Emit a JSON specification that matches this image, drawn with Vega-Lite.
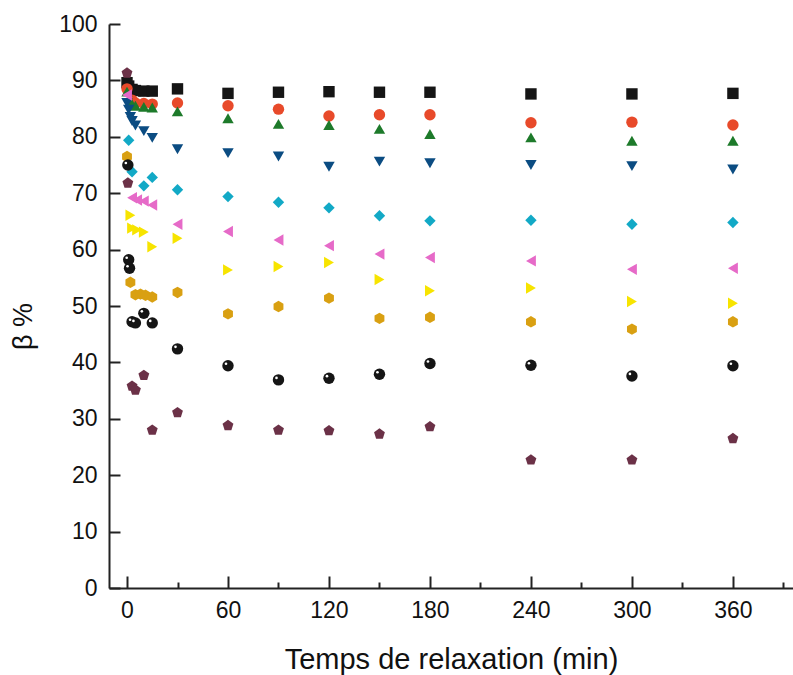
{
  "$schema": "https://vega.github.io/schema/vega-lite/v6.json",
  "width": 684,
  "height": 564,
  "autosize": {"type": "none"},
  "padding": {"left": 109, "top": 24, "right": 0, "bottom": 87},
  "background": "white",
  "config": {
    "view": {"stroke": null},
    "font": "Liberation Sans",
    "axis": {
      "domainColor": "#222",
      "domainWidth": 2,
      "tickColor": "#222",
      "tickWidth": 2,
      "grid": false,
      "labelFont": "Liberation Sans",
      "labelFontSize": 23,
      "labelColor": "#111",
      "titleFont": "Liberation Sans",
      "titleFontWeight": "normal",
      "titleColor": "#111"
    }
  },
  "datasets": {
    "pts": [
      {"s": "a", "t": 0, "b": 89.6}, {"s": "a", "t": 1, "b": 89.0}, {"s": "a", "t": 3, "b": 88.4}, {"s": "a", "t": 5, "b": 88.2}, {"s": "a", "t": 10, "b": 88.1}, {"s": "a", "t": 15, "b": 88.1},
      {"s": "a", "t": 30, "b": 88.5}, {"s": "a", "t": 60, "b": 87.7}, {"s": "a", "t": 90, "b": 87.9}, {"s": "a", "t": 120, "b": 88.0}, {"s": "a", "t": 150, "b": 87.9}, {"s": "a", "t": 180, "b": 87.9}, {"s": "a", "t": 240, "b": 87.6}, {"s": "a", "t": 300, "b": 87.6}, {"s": "a", "t": 360, "b": 87.7},

      {"s": "b", "t": 0, "b": 88.5}, {"s": "b", "t": 3, "b": 86.5}, {"s": "b", "t": 5, "b": 86.0}, {"s": "b", "t": 10, "b": 85.9}, {"s": "b", "t": 15, "b": 85.8},
      {"s": "b", "t": 30, "b": 86.0}, {"s": "b", "t": 60, "b": 85.5}, {"s": "b", "t": 90, "b": 84.9}, {"s": "b", "t": 120, "b": 83.7}, {"s": "b", "t": 150, "b": 83.9}, {"s": "b", "t": 180, "b": 83.9}, {"s": "b", "t": 240, "b": 82.5}, {"s": "b", "t": 300, "b": 82.6}, {"s": "b", "t": 360, "b": 82.1},

      {"s": "c", "t": 0, "b": 88.0}, {"s": "c", "t": 2, "b": 86.3}, {"s": "c", "t": 5, "b": 85.5}, {"s": "c", "t": 10, "b": 85.3}, {"s": "c", "t": 15, "b": 85.2},
      {"s": "c", "t": 30, "b": 84.5}, {"s": "c", "t": 60, "b": 83.3}, {"s": "c", "t": 90, "b": 82.3}, {"s": "c", "t": 120, "b": 82.1}, {"s": "c", "t": 150, "b": 81.4}, {"s": "c", "t": 180, "b": 80.5}, {"s": "c", "t": 240, "b": 79.9}, {"s": "c", "t": 300, "b": 79.3}, {"s": "c", "t": 360, "b": 79.3},

      {"s": "d", "t": 0, "b": 86.0}, {"s": "d", "t": 1, "b": 84.8}, {"s": "d", "t": 2, "b": 83.5}, {"s": "d", "t": 3, "b": 82.8}, {"s": "d", "t": 5, "b": 82.0}, {"s": "d", "t": 10, "b": 81.0}, {"s": "d", "t": 15, "b": 79.8},
      {"s": "d", "t": 30, "b": 77.8}, {"s": "d", "t": 60, "b": 77.1}, {"s": "d", "t": 90, "b": 76.5}, {"s": "d", "t": 120, "b": 74.7}, {"s": "d", "t": 150, "b": 75.6}, {"s": "d", "t": 180, "b": 75.3}, {"s": "d", "t": 240, "b": 75.0}, {"s": "d", "t": 300, "b": 74.8}, {"s": "d", "t": 360, "b": 74.2},

      {"s": "e", "t": 1, "b": 79.4}, {"s": "e", "t": 3, "b": 73.8}, {"s": "e", "t": 10, "b": 71.3}, {"s": "e", "t": 15, "b": 72.8},
      {"s": "e", "t": 30, "b": 70.6}, {"s": "e", "t": 60, "b": 69.4}, {"s": "e", "t": 90, "b": 68.4}, {"s": "e", "t": 120, "b": 67.4}, {"s": "e", "t": 150, "b": 66.0}, {"s": "e", "t": 180, "b": 65.1}, {"s": "e", "t": 240, "b": 65.2}, {"s": "e", "t": 300, "b": 64.5}, {"s": "e", "t": 360, "b": 64.8},

      {"s": "f", "t": 0, "b": 87.4}, {"s": "f", "t": 3, "b": 69.2}, {"s": "f", "t": 6, "b": 68.8}, {"s": "f", "t": 10, "b": 68.6}, {"s": "f", "t": 15, "b": 67.9},
      {"s": "f", "t": 30, "b": 64.5}, {"s": "f", "t": 60, "b": 63.2}, {"s": "f", "t": 90, "b": 61.7}, {"s": "f", "t": 120, "b": 60.7}, {"s": "f", "t": 150, "b": 59.2}, {"s": "f", "t": 180, "b": 58.6}, {"s": "f", "t": 240, "b": 58.0}, {"s": "f", "t": 300, "b": 56.5}, {"s": "f", "t": 360, "b": 56.7},

      {"s": "g", "t": 2, "b": 66.1}, {"s": "g", "t": 3, "b": 63.8}, {"s": "g", "t": 6, "b": 63.5}, {"s": "g", "t": 10, "b": 63.1}, {"s": "g", "t": 15, "b": 60.5},
      {"s": "g", "t": 30, "b": 62.0}, {"s": "g", "t": 60, "b": 56.4}, {"s": "g", "t": 90, "b": 57.0}, {"s": "g", "t": 120, "b": 57.7}, {"s": "g", "t": 150, "b": 54.7}, {"s": "g", "t": 180, "b": 52.7}, {"s": "g", "t": 240, "b": 53.2}, {"s": "g", "t": 300, "b": 50.8}, {"s": "g", "t": 360, "b": 50.5},

      {"s": "h", "t": 0, "b": 76.5}, {"s": "h", "t": 2, "b": 54.2}, {"s": "h", "t": 5, "b": 52.0}, {"s": "h", "t": 8, "b": 52.1}, {"s": "h", "t": 11, "b": 51.9}, {"s": "h", "t": 15, "b": 51.6},
      {"s": "h", "t": 30, "b": 52.4}, {"s": "h", "t": 60, "b": 48.6}, {"s": "h", "t": 90, "b": 49.9}, {"s": "h", "t": 120, "b": 51.4}, {"s": "h", "t": 150, "b": 47.8}, {"s": "h", "t": 180, "b": 48.0}, {"s": "h", "t": 240, "b": 47.2}, {"s": "h", "t": 300, "b": 45.9}, {"s": "h", "t": 360, "b": 47.2},

      {"s": "i", "t": 0.5, "b": 75.0}, {"s": "i", "t": 1, "b": 58.2}, {"s": "i", "t": 1.5, "b": 56.7}, {"s": "i", "t": 3, "b": 47.2}, {"s": "i", "t": 5, "b": 47.0}, {"s": "i", "t": 10, "b": 48.7}, {"s": "i", "t": 15, "b": 47.0},
      {"s": "i", "t": 30, "b": 42.4}, {"s": "i", "t": 60, "b": 39.4}, {"s": "i", "t": 90, "b": 36.9}, {"s": "i", "t": 120, "b": 37.2}, {"s": "i", "t": 150, "b": 37.9}, {"s": "i", "t": 180, "b": 39.8}, {"s": "i", "t": 240, "b": 39.5}, {"s": "i", "t": 300, "b": 37.6}, {"s": "i", "t": 360, "b": 39.4},

      {"s": "j", "t": 0, "b": 91.3}, {"s": "j", "t": 0.5, "b": 71.8}, {"s": "j", "t": 3, "b": 35.8}, {"s": "j", "t": 5, "b": 35.1}, {"s": "j", "t": 10, "b": 37.7}, {"s": "j", "t": 15, "b": 28.0},
      {"s": "j", "t": 30, "b": 31.1}, {"s": "j", "t": 60, "b": 28.8}, {"s": "j", "t": 90, "b": 28.0}, {"s": "j", "t": 120, "b": 27.9}, {"s": "j", "t": 150, "b": 27.3}, {"s": "j", "t": 180, "b": 28.6}, {"s": "j", "t": 240, "b": 22.7}, {"s": "j", "t": 300, "b": 22.7}, {"s": "j", "t": 360, "b": 26.5}
    ]
  },
  "layer": [
    {
      "mark": {"type": "rule", "color": "#222", "strokeWidth": 2},
      "encoding": {"y": {"datum": 100, "type": "quantitative", "scale": {"domain": [0, 100]}}}
    },
    {
      "data": {"name": "pts"},
      "mark": {"type": "point", "filled": true, "opacity": 1, "size": 130},
      "encoding": {
        "x": {
          "field": "t", "type": "quantitative",
          "scale": {"domain": [-10.7, 395.7], "nice": false, "zero": false},
          "axis": {
            "title": "Temps de relaxation (min)",
            "titleFontSize": 29,
            "titleY": 80,
            "titleBaseline": "alphabetic",
            "values": [0, 30, 60, 90, 120, 150, 180, 210, 240, 270, 300, 330, 360, 390],
            "labelExpr": "datum.value % 60 === 0 ? datum.label : ''",
            "tickSize": {"condition": {"test": "datum.value % 60 === 0", "value": -12}, "value": -6},
            "labelPadding": 23
          }
        },
        "y": {
          "field": "b", "type": "quantitative",
          "scale": {"domain": [0, 100], "nice": false},
          "axis": {
            "title": "β %",
            "titleFontSize": 27,
            "titleX": -72,
            "titleY": 302,
            "values": [0, 5, 10, 15, 20, 25, 30, 35, 40, 45, 50, 55, 60, 65, 70, 75, 80, 85, 90, 95, 100],
            "labelExpr": "datum.value % 10 === 0 ? datum.label : ''",
            "tickSize": {"condition": {"test": "datum.value % 10 === 0", "value": -11}, "value": -6},
            "labelPadding": 23
          }
        },
        "color": {
          "field": "s", "type": "nominal", "legend": null,
          "scale": {
            "domain": ["a", "b", "c", "d", "e", "f", "g", "h", "i", "j"],
            "range": ["#151515", "#e84a2a", "#1d7a2a", "#0b4c82", "#12a9c6", "#e66ac8", "#f7e400", "#d9a012", "#151515", "#6b3147"]
          }
        },
        "shape": {
          "field": "s", "type": "nominal", "legend": null,
          "scale": {
            "domain": ["a", "b", "c", "d", "e", "f", "g", "h", "i", "j"],
            "range": ["square", "circle", "triangle-up", "triangle-down", "diamond", "triangle-left", "triangle-right",
              "M0,-1L0.866,-0.5L0.866,0.5L0,1L-0.866,0.5L-0.866,-0.5Z",
              "circle",
              "M0,-1L0.951,-0.309L0.588,0.809L-0.588,0.809L-0.951,-0.309Z"]
          }
        }
      }
    },
    {
      "data": {"name": "pts"},
      "transform": [{"filter": "datum.s === 'i'"}],
      "mark": {"type": "point", "filled": true, "opacity": 1, "size": 7, "color": "white", "xOffset": -2, "yOffset": -2},
      "encoding": {
        "x": {"field": "t", "type": "quantitative"},
        "y": {"field": "b", "type": "quantitative"}
      }
    }
  ]
}
